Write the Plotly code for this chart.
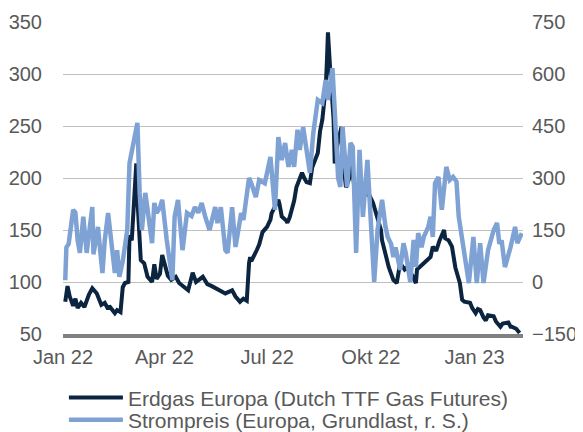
import plotly.graph_objects as go

# Erdgas Europa (Dutch TTF), EUR/MWh, linke Achse
gas_dates = [
    "2022-01-03", "2022-01-05", "2022-01-07", "2022-01-10", "2022-01-12", "2022-01-14",
    "2022-01-17", "2022-01-20", "2022-01-24", "2022-01-27", "2022-01-31", "2022-02-02",
    "2022-02-04", "2022-02-07", "2022-02-10", "2022-02-11", "2022-02-16", "2022-02-18",
    "2022-02-21", "2022-02-23", "2022-02-25", "2022-02-28", "2022-03-01", "2022-03-03",
    "2022-03-07", "2022-03-08", "2022-03-10", "2022-03-11", "2022-03-14", "2022-03-17",
    "2022-03-21", "2022-03-23", "2022-03-25", "2022-03-28", "2022-03-30", "2022-04-04",
    "2022-04-07", "2022-04-11", "2022-04-14", "2022-04-18", "2022-04-22", "2022-04-26",
    "2022-04-29", "2022-05-05", "2022-05-09", "2022-05-13", "2022-05-17", "2022-05-20",
    "2022-05-25", "2022-05-27", "2022-05-31", "2022-06-03", "2022-06-07", "2022-06-10",
    "2022-06-13", "2022-06-15", "2022-06-16", "2022-06-17", "2022-06-20", "2022-06-22",
    "2022-06-24", "2022-06-27", "2022-07-01", "2022-07-04", "2022-07-05", "2022-07-08",
    "2022-07-11", "2022-07-12", "2022-07-14", "2022-07-18", "2022-07-19", "2022-07-21",
    "2022-07-25", "2022-07-27", "2022-07-29", "2022-08-01", "2022-08-03", "2022-08-05",
    "2022-08-08", "2022-08-10", "2022-08-15", "2022-08-17", "2022-08-19", "2022-08-22",
    "2022-08-23", "2022-08-24", "2022-08-26", "2022-08-29", "2022-08-30", "2022-09-01",
    "2022-09-05", "2022-09-06", "2022-09-09", "2022-09-12", "2022-09-14", "2022-09-16",
    "2022-09-19", "2022-09-21", "2022-09-26", "2022-09-30", "2022-10-03", "2022-10-05",
    "2022-10-07", "2022-10-10", "2022-10-11", "2022-10-14", "2022-10-17", "2022-10-19",
    "2022-10-21", "2022-10-24", "2022-10-25", "2022-10-27", "2022-10-31", "2022-11-02",
    "2022-11-07", "2022-11-10", "2022-11-11", "2022-11-15", "2022-11-17", "2022-11-21",
    "2022-11-23", "2022-11-25", "2022-11-28", "2022-12-01", "2022-12-05", "2022-12-06",
    "2022-12-09", "2022-12-12", "2022-12-15", "2022-12-19", "2022-12-20", "2022-12-21",
    "2022-12-23", "2022-12-28", "2022-12-30", "2023-01-02", "2023-01-04", "2023-01-06",
    "2023-01-09", "2023-01-11", "2023-01-13", "2023-01-18", "2023-01-20", "2023-01-24",
    "2023-01-26", "2023-01-31", "2023-02-02", "2023-02-03", "2023-02-07", "2023-02-09",
    "2023-02-10",
]
gas_values = [
    81, 96, 86, 77, 84, 75,
    80, 76, 88, 94, 89, 82,
    78, 80, 74, 77, 70, 73,
    71, 95, 99, 100, 145, 140,
    214, 180, 128, 121, 118, 105,
    100, 117, 103, 108, 126, 106,
    102, 105, 99, 96, 92, 109,
    100, 105, 98, 96, 94, 92,
    89, 90, 92, 86, 81, 84,
    82, 118, 124, 120, 128, 131,
    136, 148, 153, 160, 166, 172,
    179, 175, 163, 159, 157, 162,
    178, 191, 196, 205, 200, 196,
    195, 210, 224, 245, 256, 287,
    310, 340, 304, 256, 214, 230,
    249, 220, 191, 200, 214, 195,
    185, 179, 185, 183, 176, 168,
    160, 150, 140, 125, 114, 108,
    102, 99, 104, 118, 112, 114,
    106, 99, 112, 116, 118, 121,
    124, 134, 130, 140, 150, 142,
    140, 134, 114, 99, 90, 83,
    81, 80, 75, 70, 74, 73,
    66, 63, 68, 67, 62, 57,
    60, 61, 57, 57, 55, 52,
    51,
]

# Strompreis (Europa, Grundlast), EUR/MWh, rechte Achse
power_dates = [
    "2022-01-03", "2022-01-04", "2022-01-06", "2022-01-10", "2022-01-12", "2022-01-14",
    "2022-01-16", "2022-01-19", "2022-01-22", "2022-01-25", "2022-01-27", "2022-01-28",
    "2022-01-31", "2022-02-01", "2022-02-03", "2022-02-05", "2022-02-07", "2022-02-10",
    "2022-02-13", "2022-02-16", "2022-02-18", "2022-02-20", "2022-02-23", "2022-02-27",
    "2022-03-01", "2022-03-03", "2022-03-06", "2022-03-08", "2022-03-10", "2022-03-12",
    "2022-03-15", "2022-03-17", "2022-03-21", "2022-03-23", "2022-03-25", "2022-03-28",
    "2022-03-30", "2022-04-03", "2022-04-08", "2022-04-10", "2022-04-13", "2022-04-17",
    "2022-04-21", "2022-04-25", "2022-04-28", "2022-05-01", "2022-05-04", "2022-05-07",
    "2022-05-11", "2022-05-16", "2022-05-18", "2022-05-21", "2022-05-25", "2022-05-27",
    "2022-05-31", "2022-06-03", "2022-06-08", "2022-06-10", "2022-06-15", "2022-06-17",
    "2022-06-21", "2022-06-24", "2022-06-29", "2022-07-04", "2022-07-08", "2022-07-11",
    "2022-07-14", "2022-07-17", "2022-07-20", "2022-07-23", "2022-07-25", "2022-07-28",
    "2022-07-30", "2022-08-02", "2022-08-05", "2022-08-08", "2022-08-11", "2022-08-15",
    "2022-08-19", "2022-08-22", "2022-08-24", "2022-08-28", "2022-08-30", "2022-09-02",
    "2022-09-04", "2022-09-06", "2022-09-10", "2022-09-13", "2022-09-15", "2022-09-18",
    "2022-09-21", "2022-09-24", "2022-09-28", "2022-10-02", "2022-10-04", "2022-10-07",
    "2022-10-11", "2022-10-14", "2022-10-16", "2022-10-19", "2022-10-21", "2022-10-23",
    "2022-10-27", "2022-10-30", "2022-11-01", "2022-11-05", "2022-11-08", "2022-11-10",
    "2022-11-12", "2022-11-15", "2022-11-17", "2022-11-21", "2022-11-23", "2022-11-25",
    "2022-11-27", "2022-11-30", "2022-12-03", "2022-12-07", "2022-12-10", "2022-12-13",
    "2022-12-16", "2022-12-18", "2022-12-21", "2022-12-24", "2022-12-26", "2022-12-27",
    "2022-12-31", "2023-01-03", "2023-01-06", "2023-01-09", "2023-01-13", "2023-01-18",
    "2023-01-21", "2023-01-23", "2023-01-25", "2023-01-28", "2023-02-02", "2023-02-06",
    "2023-02-08", "2023-02-12",
]
power_values = [
    5, 100, 110, 208, 200, 120,
    84, 188, 84, 150, 216, 80,
    140, 159, 90, 26, 120, 199,
    112, 26, 92, 15, 60, 150,
    343, 380, 420, 459, 257, 150,
    257, 200, 112, 228, 199, 215,
    237, 121, 5, 188, 237, 92,
    199, 190, 216, 200, 228, 190,
    150, 216, 170, 216, 92, 84,
    216, 101, 199, 179, 300, 285,
    245, 294, 285, 361, 208, 418,
    352, 401, 332, 381, 332, 439,
    381, 447, 380, 315, 430, 525,
    516, 583, 525, 617, 496, 300,
    274, 447, 274, 401, 390, 84,
    381, 188, 352, 84, 0, 150,
    237, 160, 130, 110, 72, 100,
    35, 112, 84, 0, 121, 43,
    141, 100, 130, 159, 188, 130,
    285, 303, 208, 332, 294, 303,
    290, 188, 130, 60, 26, -3,
    130, -3, 112, -3, 92, 150,
    170, 110, 120, 43, 101, 159,
    112, 141,
]

tick_vals = ["2022-01-01", "2022-04-01", "2022-07-01", "2022-10-01", "2023-01-01"]
tick_text = ["Jan 22", "Apr 22", "Jul 22", "Okt 22", "Jan 23"]

font_family = "Liberation Sans, Arial, sans-serif"
text_grey = "#595959"

# the page body adds an 8px offset, so the figure is 8px smaller than the window
fig = go.Figure()
fig.add_trace(go.Scatter(x=gas_dates, y=gas_values, mode="lines",
                         name="Erdgas Europa (Dutch TTF Gas Futures)",
                         line=dict(color="#0b2440", width=4), legend="legend"))
fig.add_trace(go.Scatter(x=power_dates, y=power_values, mode="lines",
                         name="Strompreis (Europa, Grundlast, r. S.)",
                         line=dict(color="#7fa2d5", width=4.5), yaxis="y2",
                         legend="legend2"))

legend_style = dict(orientation="v", x=0.002, xanchor="left", yanchor="middle",
                    font=dict(size=21, color=text_grey), itemwidth=54,
                    bgcolor="rgba(0,0,0,0)")

fig.update_layout(
    width=575, height=424,
    margin=dict(l=55, r=60, t=14, b=98, autoexpand=False),
    paper_bgcolor="white", plot_bgcolor="white",
    font=dict(family=font_family, size=20, color=text_grey),
    showlegend=True,
    legend=dict(legend_style, y=-0.205),
    legend2=dict(legend_style, y=-0.276),
    xaxis=dict(type="date", range=["2022-01-01", "2023-02-13"],
               tickvals=tick_vals, ticktext=tick_text, showgrid=False,
               showline=True, linecolor="#808080", linewidth=3.5,
               ticks="", ticklabelstandoff=2, zeroline=False),
    yaxis=dict(range=[50, 350], dtick=50, showgrid=True, gridcolor="#c0c0c0",
               gridwidth=1, zeroline=False, ticks="", ticklabelstandoff=20),
    yaxis2=dict(range=[-150, 750], dtick=150, overlaying="y", side="right",
                showgrid=False, zeroline=False, ticks="", ticklabelstandoff=8),
)

fig.write_html("out.html")
